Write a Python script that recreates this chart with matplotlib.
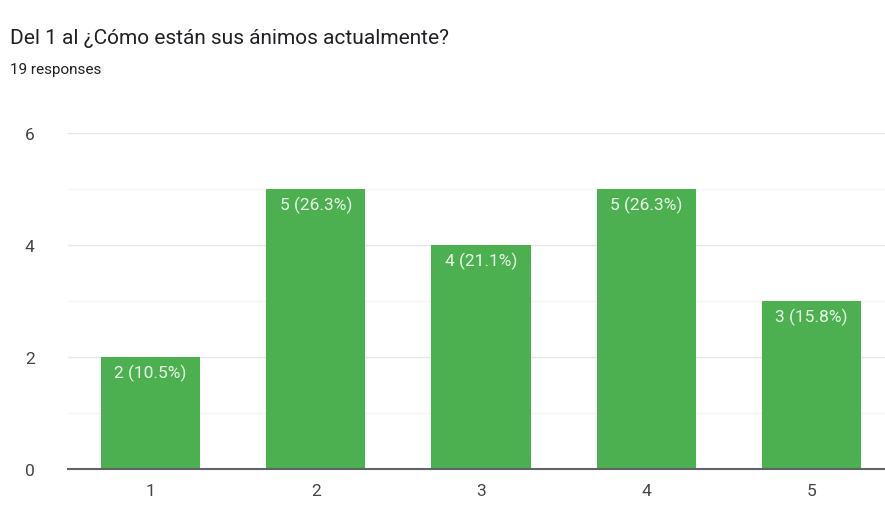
import matplotlib.pyplot as plt
import numpy as np

plt.rcParams['font.family'] = ['Roboto', 'DejaVu Sans']

categories = ['1', '2', '3', '4', '5']
counts = [2, 5, 4, 5, 3]
labels = ['2 (10.5%)', '5 (26.3%)', '4 (21.1%)', '5 (26.3%)', '3 (15.8%)']

fig = plt.figure(figsize=(8.85, 5.06), dpi=100)
ax = fig.add_axes([68 / 885, 36 / 506, 826 / 885, 336 / 506])

x = np.arange(1, len(categories) + 1)
ax.bar(x, counts, width=0.6, color='#4caf50', zorder=3)
for xi, c, lab in zip(x, counts, labels):
    ax.annotate(lab, (xi, c), xytext=(0, -5), textcoords='offset points',
                ha='center', va='top', color='#eaf7e8', fontsize=12.5, zorder=4)

ax.set_xlim(0.5, 5.5)
ax.set_ylim(0, 6)
ax.set_yticks([0, 2, 4, 6])
ax.set_yticks([1, 3, 5], minor=True)
ax.set_xticks(x)
ax.set_xticklabels(categories)
ax.grid(axis='y', which='major', color='#e6e6e6', lw=1, zorder=0)
ax.grid(axis='y', which='minor', color='#f5f5f5', lw=1, zorder=0)
for s in ['top', 'right', 'left']:
    ax.spines[s].set_visible(False)
ax.spines['bottom'].set_color('#5f6368')
ax.spines['bottom'].set_linewidth(1.5)
ax.spines['bottom'].set_zorder(5)
ax.tick_params(axis='both', which='both', length=0, labelsize=12.5, colors='#444444')
ax.tick_params(axis='y', pad=24)
ax.tick_params(axis='x', pad=10)

fig.text(10 / 885, 1 - 38 / 506, 'Del 1 al ¿Cómo están sus ánimos actualmente?',
         fontsize=15, color='#202124', va='center', ha='left')
fig.text(10 / 885, 1 - 70 / 506, '19 responses', fontsize=11, color='#202124',
         va='center', ha='left')

fig.savefig('out.png', dpi=100)
